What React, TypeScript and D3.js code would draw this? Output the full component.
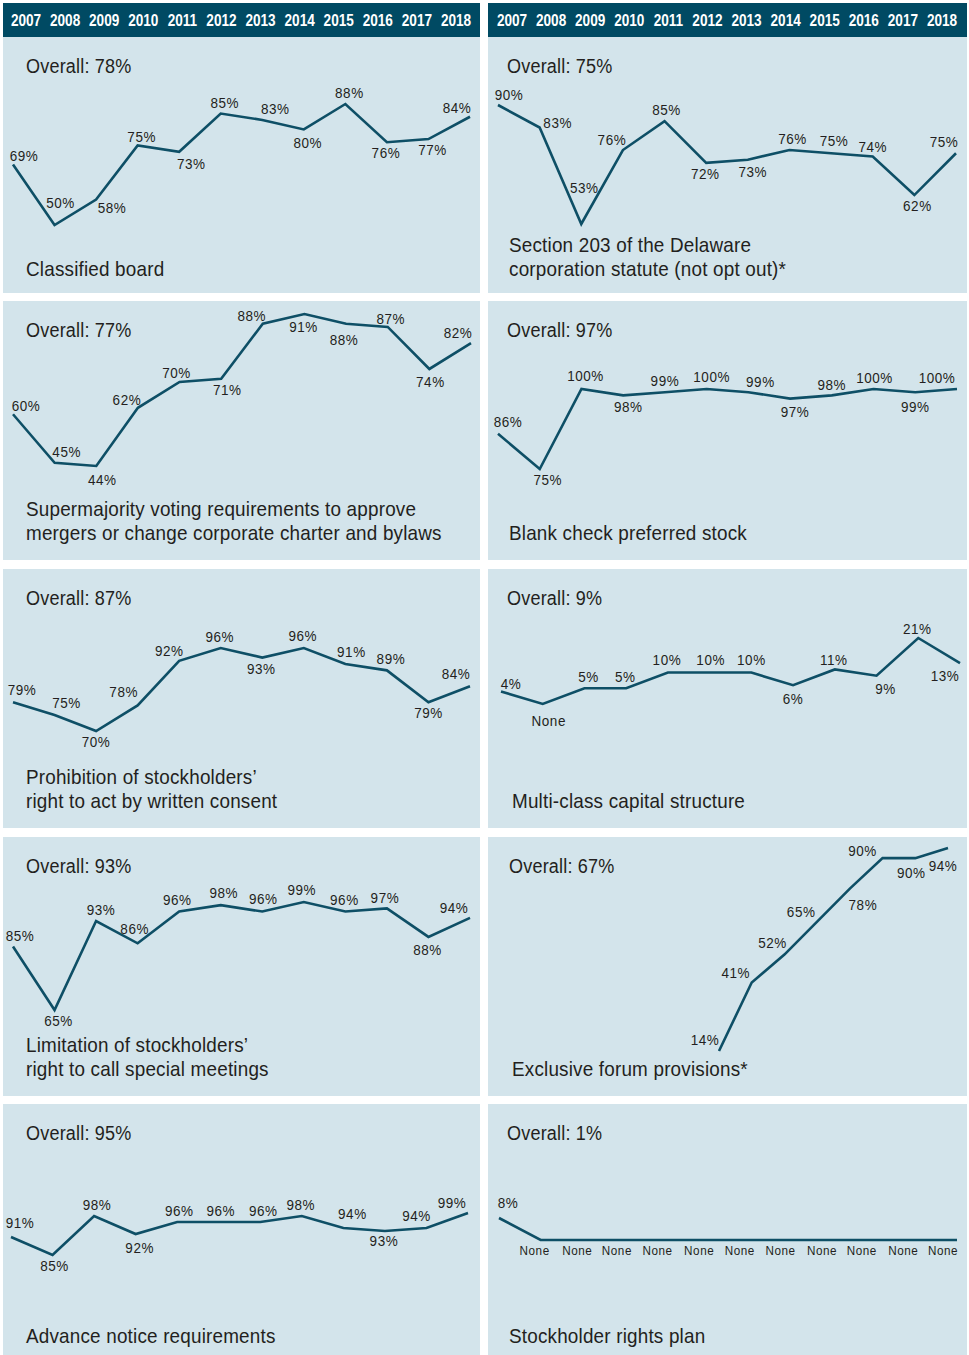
import React from "react";
import * as d3 from "d3";

// ---------------- DATA ----------------
const years = [2007, 2008, 2009, 2010, 2011, 2012, 2013, 2014, 2015, 2016, 2017, 2018];
const exclusiveForumYears = [2011, 2012, 2013, 2014, 2015, 2016, 2017, 2018];

const classifiedBoard = [69, 50, 58, 75, 73, 85, 83, 80, 88, 76, 77, 84];
const section203 = [90, 83, 53, 76, 85, 72, 73, 76, 75, 74, 62, 75];
const supermajority = [60, 45, 44, 62, 70, 71, 88, 91, 88, 87, 74, 82];
const blankCheck = [86, 75, 100, 98, 99, 100, 99, 97, 98, 100, 99, 100];
const writtenConsent = [79, 75, 70, 78, 92, 96, 93, 96, 91, 89, 79, 84];
const multiClass = [4, 0, 5, 5, 10, 10, 10, 6, 11, 9, 21, 13];
const specialMeetings = [85, 65, 93, 86, 96, 98, 96, 99, 96, 97, 88, 94];
const exclusiveForum = [14, 41, 52, 65, 78, 90, 90, 94];
const advanceNotice = [91, 85, 98, 92, 96, 96, 96, 98, 94, 93, 94, 99];
const rightsPlan = [8, 0, 0, 0, 0, 0, 0, 0, 0, 0, 0, 0];

const overallValues = [78, 75, 77, 97, 87, 9, 93, 67, 95, 1];

const titles = [
  ["Classified board"],
  ["Section 203 of the Delaware", "corporation statute (not opt out)*"],
  ["Supermajority voting requirements to approve", "mergers or change corporate charter and bylaws"],
  ["Blank check preferred stock"],
  ["Prohibition of stockholders\u2019", "right to act by written consent"],
  ["Multi-class capital structure"],
  ["Limitation of stockholders\u2019", "right to call special meetings"],
  ["Exclusive forum provisions*"],
  ["Advance notice requirements"],
  ["Stockholder rights plan"],
];

const seriesList = [
  { years, values: classifiedBoard },
  { years, values: section203 },
  { years, values: supermajority },
  { years, values: blankCheck },
  { years, values: writtenConsent },
  { years, values: multiClass },
  { years, values: specialMeetings },
  { years: exclusiveForumYears, values: exclusiveForum },
  { years, values: advanceNotice },
  { years, values: rightsPlan },
];

// ---------------- LAYOUT ----------------
const W = 969;
const H = 1355;
const rowTops = [37, 301, 569, 837, 1104];
const rowBottoms = [293, 560, 828, 1096, 1355];
const colX = [
  [3, 480],
  [488, 967],
];
const headerY = [3, 37];
const headerYearRange = [
  [26, 456],
  [512, 942],
];

const FONT = "'Liberation Sans', Arial, sans-serif";
const BG = "#d3e4eb";
const HEADER = "#004a63";
const LINE = "#0e4f66";
const TEXT = "#231f20";

// per-panel: x pixel range, y domain -> y range, label offsets [dx, dy], title x
const panelLayout = [
  {
    xr: [13, 470], yd: [50, 88], yr: [225, 104], tx: 26, ox: 26, noneFs: 15,
    off: [[11, -9], [6, -22], [16, 8], [4, -9], [12, 12], [4, -11], [13, -11], [4, 13], [4, -11], [-1, 11], [4, 11], [-13, -9]],
  },
  {
    xr: [498, 956], yd: [53, 90], yr: [224, 105], tx: 509, ox: 507, noneFs: 15,
    off: [[11, -10], [18, -5], [3, -36], [-11, -10], [2, -11], [-1, 11], [5, 12], [3, -11], [3, -12], [0, -10], [3, 11], [-12, -11]],
  },
  {
    xr: [13, 471], yd: [44, 91], yr: [466, 314], tx: 26, ox: 26, noneFs: 15,
    off: [[13, -9], [12, -11], [6, 14], [-11, -8], [-3, -9], [6, 11], [-11, -8], [-1, 13], [-2, 16], [3, -8], [1, 13], [-13, -10]],
  },
  {
    xr: [498, 957], yd: [75, 100], yr: [469, 389], tx: 509, ox: 507, noneFs: 15,
    off: [[10, -12], [8, 11], [4, -13], [5, 11], [0, -11], [5, -12], [12, -10], [5, 13], [0, -11], [1, -11], [0, 15], [-20, -11]],
  },
  {
    xr: [13, 470], yd: [70, 96], yr: [731, 648], tx: 26, ox: 26, noneFs: 15,
    off: [[9, -13], [12, -12], [0, 11], [-14, -14], [-10, -10], [-1, -11], [-1, 11], [-1, -12], [6, -12], [4, -12], [0, 10], [-14, -13]],
  },
  {
    xr: [501, 960], yd: [0, 21], yr: [704, 638], tx: 512, ox: 507, noneFs: 15,
    off: [[10, -8], [6, 17], [4, -12], [-1, -12], [-1, -13], [1, -13], [0, -13], [0, 14], [-1, -10], [9, 13], [-1, -9], [-15, 13]],
  },
  {
    xr: [13, 470], yd: [65, 99], yr: [1010, 902], tx: 26, ox: 26, noneFs: 15,
    off: [[7, -11], [4, 11], [5, -11], [-3, -15], [-2, -12], [3, -12], [1, -13], [-2, -12], [-1, -12], [-2, -11], [-1, 13], [-16, -10]],
  },
  {
    xr: [719, 948], yd: [14, 94], yr: [1051, 848], tx: 512, ox: 509, noneFs: 15,
    off: [[-14, -11], [-16, -10], [-12, -12], [-16, -10], [13, 16], [-20, -7], [-4, 15], [-5, 18]],
  },
  {
    xr: [11, 468], yd: [85, 98], yr: [1255, 1216], tx: 26, ox: 26, noneFs: 15,
    off: [[9, -14], [2, 11], [3, -11], [4, 14], [2, -11], [2, -11], [3, -11], [-1, -11], [9, -14], [-1, 10], [-10, -12], [-16, -10]],
  },
  {
    xr: [499, 957], yd: [0, 8], yr: [1240, 1218], tx: 509, ox: 507, noneFs: 13,
    off: [[9, -15], [-6, 11], [-5, 11], [-7, 11], [-8, 11], [-8, 11], [-9, 11], [-10, 11], [-10, 11], [-12, 11], [-12, 11], [-14, 11]],
  },
];

type TProps = {
  x: number;
  y: number;
  size: number;
  sx?: number;
  anchor?: "start" | "middle" | "end";
  weight?: string;
  spacing?: number;
  fill?: string;
  children: React.ReactNode;
};

// condensed text: real SVG text, narrowed horizontally
function T({ x, y, size, sx = 0.85, anchor = "start", weight = "normal", spacing = 0, fill = TEXT, children }: TProps) {
  return (
    <text
      transform={`translate(${x},${y}) scale(${sx},1)`}
      textAnchor={anchor}
      dominantBaseline="central"
      fontFamily={FONT}
      fontSize={size}
      fontWeight={weight}
      letterSpacing={spacing}
      fill={fill}
    >
      {children}
    </text>
  );
}

function Panel({ idx }: { idx: number }) {
  const row = Math.floor(idx / 2);
  const col = idx % 2;
  const top = rowTops[row];
  const bottom = rowBottoms[row];
  const [x0, x1] = colX[col];
  const L = panelLayout[idx];
  const s = seriesList[idx];
  const x = d3.scalePoint<number>().domain(s.years).range(L.xr as [number, number]);
  const y = d3.scaleLinear().domain(L.yd).range(L.yr);
  const pts = s.years.map((yr, i) => ({ yr, v: s.values[i] }));
  const line = d3
    .line<{ yr: number; v: number }>()
    .x((d) => x(d.yr) as number)
    .y((d) => y(d.v));
  const lines = titles[idx];
  const lastY = top + 232;
  return (
    <g>
      <rect x={x0} y={top} width={x1 - x0} height={bottom - top} fill={BG} />
      <T x={L.ox} y={top + 28} size={21} sx={0.86} spacing={0.2}>
        {`Overall: ${overallValues[idx]}%`}
      </T>
      <path d={line(pts) || ""} fill="none" stroke={LINE} strokeWidth={2.6} strokeLinejoin="miter" />
      {pts.map((d, i) => (
        <T
          key={i}
          x={(x(d.yr) as number) + L.off[i][0]}
          y={y(d.v) + L.off[i][1]}
          anchor="middle"
          size={d.v === 0 ? L.noneFs : 15}
          sx={0.9}
          spacing={0.6}
        >
          {d.v === 0 ? "None" : `${d.v}%`}
        </T>
      ))}
      {lines.map((t, i) => (
        <T key={i} x={L.tx} y={lastY - (lines.length - 1 - i) * 24.5} size={21} sx={0.9} spacing={0.2}>
          {t}
        </T>
      ))}
    </g>
  );
}

function Header({ col }: { col: number }) {
  const [x0, x1] = colX[col];
  const xs = d3.scalePoint<number>().domain(years).range(headerYearRange[col] as [number, number]);
  return (
    <g>
      <rect x={x0} y={headerY[0]} width={x1 - x0} height={headerY[1] - headerY[0]} fill={HEADER} />
      {years.map((yr) => (
        <T
          key={yr}
          x={xs(yr) as number}
          y={(headerY[0] + headerY[1]) / 2 + 0.5}
          anchor="middle"
          size={16}
          sx={0.85}
          weight="bold"
          fill="#ffffff"
        >
          {yr}
        </T>
      ))}
    </g>
  );
}

export default function App() {
  return (
    <svg
      width={W}
      height={H}
      viewBox={`0 0 ${W} ${H}`}
      style={{ position: "absolute", left: 0, top: 0, background: "#ffffff" }}
    >
      <rect x={0} y={0} width={W} height={H} fill="#ffffff" />
      <Header col={0} />
      <Header col={1} />
      {panelLayout.map((_, i) => (
        <Panel key={i} idx={i} />
      ))}
    </svg>
  );
}
